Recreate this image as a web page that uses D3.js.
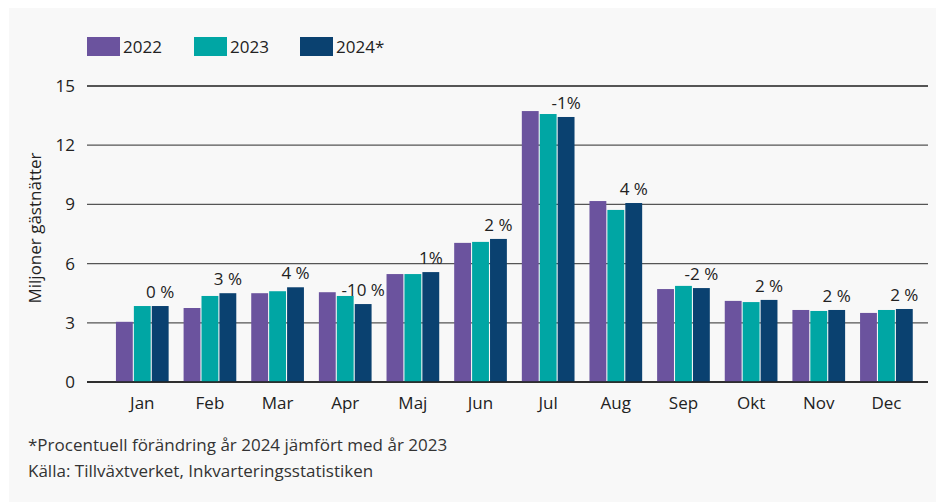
<!DOCTYPE html>
<html>
<head>
<meta charset="utf-8">
<script src="https://cdn.jsdelivr.net/npm/d3@7"></script>
<style>
  body { margin: 0; background: #fff; }
  svg { display: block; font-family: "Open Sans", sans-serif; }
</style>
</head>
<body>
<div id="chart"></div>
<script>
var months = ["Jan", "Feb", "Mar", "Apr", "Maj", "Jun", "Jul", "Aug", "Sep", "Okt", "Nov", "Dec"];
var years = ["2022", "2023", "2024*"];
var v2022 = [3.05, 3.75, 4.5, 4.55, 5.47, 7.05, 13.73, 9.17, 4.71, 4.11, 3.65, 3.5];
var v2023 = [3.85, 4.36, 4.6, 4.36, 5.47, 7.1, 13.58, 8.72, 4.87, 4.05, 3.6, 3.65];
var v2024 = [3.85, 4.5, 4.8, 3.95, 5.57, 7.25, 13.43, 9.07, 4.76, 4.16, 3.65, 3.7];
var changes = ["0 %", "3 %", "4 %", "-10 %", "1%", "2 %", "-1%", "4 %", "-2 %", "2 %", "2 %", "2 %"];
var yTicks = [0, 3, 6, 9, 12, 15];
var colors = ["#6b539e", "#00a6a4", "#0a4170"];
var yTitle = "Miljoner gästnätter";
var notes = ["*Procentuell förändring år 2024 jämfört med år 2023",
             "Källa: Tillväxtverket, Inkvarteringsstatistiken"];

var W = 936, H = 502;
var svg = d3.select("#chart").append("svg")
  .attr("width", W)
  .attr("height", H);

svg.append("rect")
  .attr("x", 9).attr("y", 8)
  .attr("width", W - 9).attr("height", H - 8)
  .attr("fill", "#f8f8f8");

var y = d3.scaleLinear().domain([0, 15]).range([382, 86]);
var x0 = d3.scaleBand().domain(months).range([108.5, 920.2])
  .paddingInner(0.221).paddingOuter(0.11);
var x1 = d3.scaleBand().domain(years).range([0, x0.bandwidth()]).paddingInner(0.06);

var gridL = 87, gridR = 928;

/* grid lines */
svg.append("g").selectAll("line")
  .data(yTicks).enter()
  .append("line")
  .attr("x1", gridL).attr("x2", gridR)
  .attr("y1", d => y(d)).attr("y2", d => y(d))
  .attr("stroke", d => d == 0 ? "#222" : "#555")
  .attr("stroke-width", d => d == 15 ? 2 : 1.3);

svg.append("g").selectAll("text")
  .data(yTicks).enter()
  .append("text")
  .attr("x", 75)
  .attr("y", d => y(d))
  .attr("dy", "0.35em")
  .attr("text-anchor", "end")
  .attr("font-size", 17)
  .attr("fill", "#222")
  .text(d => d);

svg.append("text")
  .attr("transform", "translate(41,228) rotate(-90)")
  .attr("text-anchor", "middle")
  .attr("font-size", 17)
  .attr("fill", "#222")
  .text(yTitle);

/* bars */
var series = [v2022, v2023, v2024];
var groups = svg.append("g").selectAll("g")
  .data(months).enter()
  .append("g")
  .attr("transform", d => `translate(${x0(d)},0)`);

groups.selectAll("rect")
  .data((m, i) => series.map((s, k) => ({year: years[k], value: s[i], k: k})))
  .enter()
  .append("rect")
  .attr("x", d => x1(d.year))
  .attr("width", x1.bandwidth())
  .attr("y", d => y(d.value))
  .attr("height", d => y(0) - y(d.value))
  .attr("fill", d => colors[d.k]);

/* zero line on top */
svg.append("line")
  .attr("x1", gridL).attr("x2", gridR)
  .attr("y1", y(0)).attr("y2", y(0))
  .attr("stroke", "#222").attr("stroke-width", 1.3);

/* percent labels over 2024 bars */
groups.append("text")
  .attr("x", x1(years[2]) + x1.bandwidth() / 2)
  .attr("y", (m, i) => y(v2024[i]) - 8)
  .attr("text-anchor", "middle")
  .attr("font-size", 17)
  .attr("fill", "#222")
  .text((m, i) => changes[i]);

/* x labels */
groups.append("text")
  .attr("x", x0.bandwidth() / 2)
  .attr("y", 409)
  .attr("text-anchor", "middle")
  .attr("font-size", 17)
  .attr("fill", "#222")
  .text(d => d);

/* legend */
var legX = [87, 194, 300];
var legend = svg.append("g").selectAll("g")
  .data(years).enter()
  .append("g")
  .attr("transform", (d, i) => `translate(${legX[i]},37)`);
legend.append("rect")
  .attr("width", 33).attr("height", 19)
  .attr("fill", (d, i) => colors[i]);
legend.append("text")
  .attr("x", 36).attr("y", 10)
  .attr("dy", "0.35em")
  .attr("font-size", 17)
  .attr("fill", "#222")
  .text(d => d);

/* notes */
svg.append("g").selectAll("text")
  .data(notes).enter()
  .append("text")
  .attr("x", 28)
  .attr("y", (d, i) => 451 + i * 26)
  .attr("font-size", 17)
  .attr("fill", "#333")
  .text(d => d);
</script>
</body>
</html>
